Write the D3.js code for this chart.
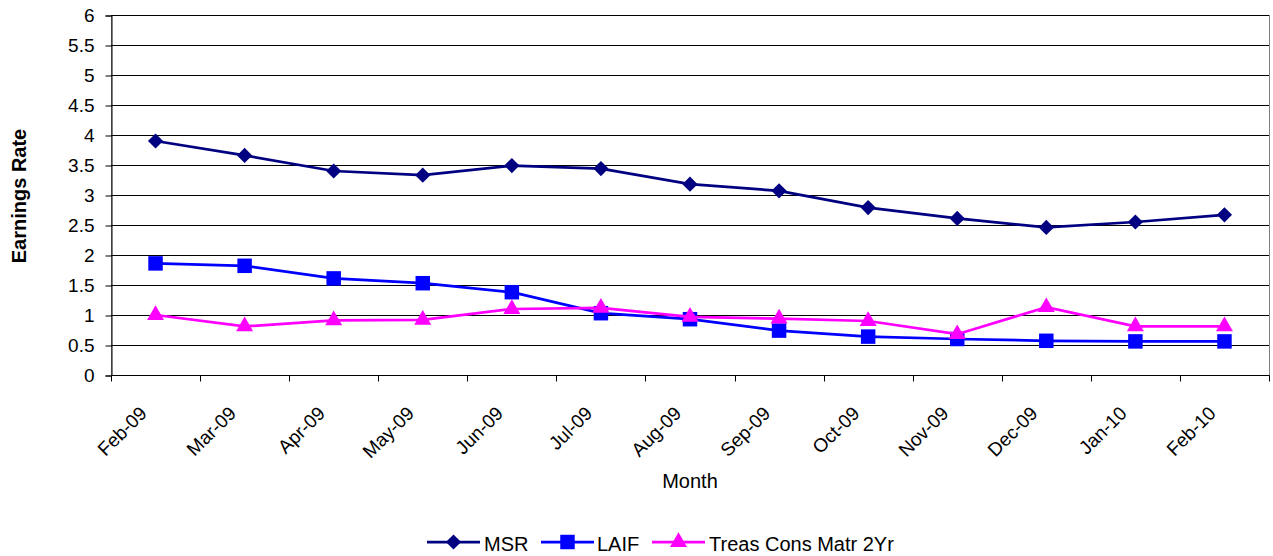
<!DOCTYPE html>
<html>
<head>
<meta charset="utf-8">
<script src="https://cdn.jsdelivr.net/npm/d3@7"></script>
<style>
  html, body { margin: 0; padding: 0; background: #fff; }
  svg { display: block; font-family: "Liberation Sans", Arial, sans-serif; }
</style>
</head>
<body>
<svg id="chart" width="1273" height="556"></svg>
<script>
// Monthly earnings rates (%)
const months = ["Feb-09","Mar-09","Apr-09","May-09","Jun-09","Jul-09","Aug-09","Sep-09","Oct-09","Nov-09","Dec-09","Jan-10","Feb-10"];
const msr   = [3.90, 3.66, 3.40, 3.33, 3.49, 3.44, 3.18, 3.07, 2.79, 2.61, 2.46, 2.55, 2.67];
const laif  = [1.86, 1.82, 1.61, 1.53, 1.38, 1.03, 0.93, 0.74, 0.64, 0.60, 0.57, 0.56, 0.56];
const treas = [1.00, 0.81, 0.91, 0.92, 1.10, 1.12, 0.97, 0.94, 0.90, 0.68, 1.13, 0.81, 0.81];
const yTicks = [0, 0.5, 1, 1.5, 2, 2.5, 3, 3.5, 4, 4.5, 5, 5.5, 6];

// diamond drawn as a square turned 45 degrees (equal diagonals)
const diamondSym = {
  draw(ctx, size) {
    const r = Math.sqrt(size / 2);
    ctx.moveTo(0, -r); ctx.lineTo(r, 0); ctx.lineTo(0, r); ctx.lineTo(-r, 0); ctx.closePath();
  }
};

const series = [
  { name: "MSR", values: msr, color: "#000080", symbol: diamondSym, size: 115 },
  { name: "LAIF", values: laif, color: "#0000FF", symbol: d3.symbolSquare, size: 210 },
  { name: "Treas Cons Matr 2Yr", values: treas, color: "#FF00FF", symbol: d3.symbolTriangle, size: 125 }
];

const svg = d3.select("#chart");
const plotL = 111, plotR = 1269, plotT = 15, plotB = 375;

const x = d3.scaleBand().domain(months).range([plotL, plotR]).paddingInner(0).paddingOuter(0);
const y = d3.scaleLinear().domain([0, 6]).range([plotB, plotT]);
const cx = m => x(m) + x.bandwidth() / 2;

// plot area frame
svg.append("rect")
  .attr("x", plotL + 0.5).attr("y", plotT + 0.5)
  .attr("width", plotR - plotL).attr("height", plotB - plotT)
  .attr("fill", "none").attr("stroke", "#808080").attr("stroke-width", 1);

// horizontal gridlines
svg.append("g").selectAll("line").data(yTicks.filter(t => t > 0)).join("line")
  .attr("x1", plotL).attr("x2", plotR)
  .attr("y1", d => Math.round(y(d)) + 0.5).attr("y2", d => Math.round(y(d)) + 0.5)
  .attr("stroke", "#000").attr("stroke-width", 1);

// y axis
const yAxis = d3.axisLeft(y).tickValues(yTicks).tickSize(6).tickPadding(11).tickFormat(d => String(d));
const gy = svg.append("g").attr("transform", `translate(${plotL + 0.5},0.5)`).call(yAxis);
gy.select(".domain").attr("stroke", "#000");
gy.selectAll(".tick line").attr("stroke", "#000");
gy.selectAll("text").attr("font-size", 19).attr("fill", "#000")
  .attr("font-family", "'Liberation Sans', Arial, sans-serif");

// x axis: ticks at band boundaries
const gx = svg.append("g").attr("transform", `translate(0.5,${plotB + 0.5})`);
gx.append("line").attr("x1", plotL).attr("x2", plotR).attr("stroke", "#000");
const boundaries = months.map(m => x(m)).concat([plotR]);
gx.selectAll("line.tk").data(boundaries).join("line").attr("class", "tk")
  .attr("x1", d => Math.round(d)).attr("x2", d => Math.round(d))
  .attr("y1", 0).attr("y2", 6).attr("stroke", "#000");
gx.selectAll("text").data(months).join("text")
  .attr("transform", d => `translate(${cx(d) - 8},${39}) rotate(-45)`)
  .attr("text-anchor", "end")
  .attr("font-size", 19)
  .attr("fill", "#000")
  .text(d => d);

// axis titles
svg.append("text")
  .attr("transform", `translate(26,${(plotT + plotB) / 2 + 1}) rotate(-90)`)
  .attr("text-anchor", "middle")
  .attr("font-size", 20).attr("font-weight", "bold")
  .text("Earnings Rate");
svg.append("text")
  .attr("x", (plotL + plotR) / 2).attr("y", 488)
  .attr("text-anchor", "middle")
  .attr("font-size", 20)
  .text("Month");

// series lines and markers
const line = d3.line().x((d, i) => cx(months[i])).y(d => y(d));
series.forEach(s => {
  const g = svg.append("g");
  g.append("path").datum(s.values)
    .attr("d", line)
    .attr("fill", "none").attr("stroke", s.color).attr("stroke-width", 2.75);
  g.selectAll("path.m").data(s.values).join("path").attr("class", "m")
    .attr("d", d3.symbol().type(s.symbol).size(s.size))
    .attr("transform", (d, i) => `translate(${cx(months[i])},${y(d)})`)
    .attr("fill", s.color);
});

// legend
const legendItems = [
  { s: series[0], x0: 427, tx: 484 },
  { s: series[1], x0: 541, tx: 597 },
  { s: series[2], x0: 652, tx: 709 }
];
const ly = 542;
legendItems.forEach(it => {
  const g = svg.append("g");
  g.append("line").attr("x1", it.x0).attr("x2", it.x0 + 53)
    .attr("y1", ly).attr("y2", ly)
    .attr("stroke", it.s.color).attr("stroke-width", 2.75);
  g.append("path")
    .attr("d", d3.symbol().type(it.s.symbol).size(it.s.size))
    .attr("transform", `translate(${it.x0 + 26.5},${ly})`)
    .attr("fill", it.s.color);
  g.append("text").attr("x", it.tx).attr("y", ly + 9)
    .attr("font-size", 20).attr("fill", "#000")
    .text(it.s.name);
});
</script>
</body>
</html>
